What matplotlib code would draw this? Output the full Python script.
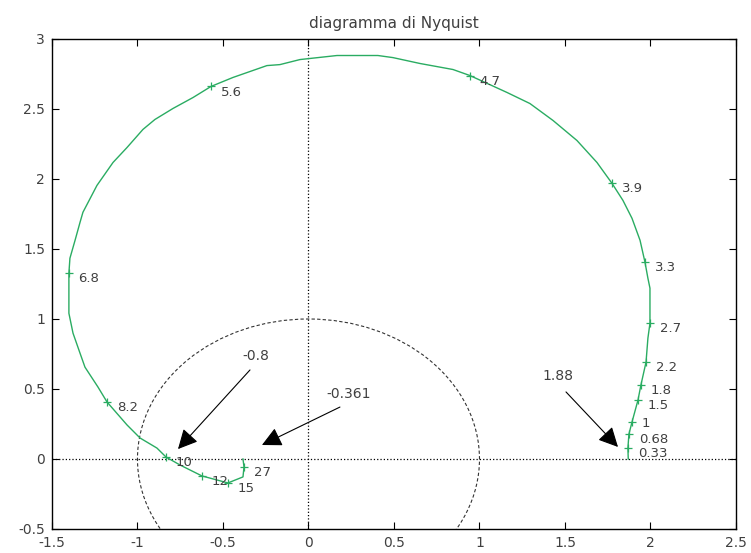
import numpy as np
import matplotlib
matplotlib.use("Agg")
import matplotlib.pyplot as plt

# curva di Nyquist (parte reale / immaginaria)
re = [1.87, 1.868, 1.874, 1.892, 1.927, 1.944, 1.974, 1.985, 1.997, 1.997, 1.985, 1.968,
      1.939, 1.892, 1.839, 1.775, 1.687, 1.570, 1.430, 1.295, 1.161, 0.944, 0.845, 0.652,
      0.494, 0.406, 0.167, -0.050, -0.167, -0.243, -0.442, -0.570, -0.675, -0.792, -0.898,
      -0.968, -1.061, -1.143, -1.237, -1.319, -1.336, -1.365, -1.395, -1.401, -1.401, -1.377,
      -1.336, -1.307, -1.231, -1.178, -1.061, -0.985, -0.886, -0.833, -0.751, -0.623, -0.471,
      -0.383, -0.377, -0.383]
im = [0.0, 0.078, 0.178, 0.264, 0.421, 0.528, 0.692, 0.863, 0.970, 1.220, 1.291, 1.405,
      1.562, 1.719, 1.847, 1.969, 2.118, 2.275, 2.418, 2.539, 2.618, 2.739, 2.782, 2.825,
      2.867, 2.882, 2.882, 2.853, 2.817, 2.810, 2.725, 2.661, 2.582, 2.504, 2.425,
      2.354, 2.225, 2.118, 1.954, 1.762, 1.690, 1.562, 1.434, 1.327, 1.041, 0.899,
      0.756, 0.656, 0.514, 0.407, 0.243, 0.150, 0.078, 0.014, -0.043, -0.121, -0.171,
      -0.128, -0.057, 0.0]

# pulsazioni marcate sulla curva
freq_labels = ["0.33", "0.68", "1", "1.5", "1.8", "2.2", "2.7", "3.3", "3.9", "4.7",
               "5.6", "6.8", "8.2", "10", "12", "15", "27"]
freq_re = [1.868, 1.874, 1.892, 1.927, 1.944, 1.974, 1.997, 1.968, 1.775, 0.944,
           -0.570, -1.401, -1.178, -0.833, -0.623, -0.471, -0.377]
freq_im = [0.078, 0.178, 0.264, 0.421, 0.528, 0.692, 0.970, 1.405, 1.969, 2.739,
           2.661, 1.327, 0.407, 0.014, -0.121, -0.171, -0.057]

xticks = [-1.5, -1, -0.5, 0, 0.5, 1, 1.5, 2, 2.5]
yticks = [-0.5, 0, 0.5, 1, 1.5, 2, 2.5, 3]

plt.rcParams['font.family'] = 'DejaVu Sans'
plt.rcParams['axes.unicode_minus'] = False

green = '#2aac62'
grey = '#404040'

fig = plt.figure(figsize=(7.51, 5.53), dpi=100)
ax = fig.add_axes([0.0692, 0.0434, 0.9108, 0.8861])

ax.axhline(0, color='k', ls=':', lw=0.9)
ax.axvline(0, color='k', ls=':', lw=0.9)

circle = plt.Circle((0, 0), 1, fill=False, edgecolor='#333333', ls=(0, (3, 2)), lw=0.8)
ax.add_patch(circle)

ax.plot(re, im, color=green, lw=1.0)
ax.plot(freq_re, freq_im, ls='none', marker='+', ms=6, mew=0.9, color=green)
for lab, x, y in zip(freq_labels, freq_re, freq_im):
    dy = -1 if lab == "1" else -4
    ax.annotate(lab, (x, y), xytext=(7, dy), textcoords='offset points',
                ha='left', va='center', fontsize=9.5, color=grey)

# frecce con i valori
arrows = [("-0.8", (-0.307, 0.736), (-0.342, 0.636), (-0.763, 0.071)),
          ("-0.361", (0.237, 0.464), (0.184, 0.371), (-0.272, 0.100)),
          ("1.88", (1.459, 0.593), (1.506, 0.479), (1.810, 0.086))]
for lab, tpos, tail, tip in arrows:
    ax.text(tpos[0], tpos[1], lab, ha='center', va='center', fontsize=10, color=grey)
    ax.annotate('', xy=tip, xytext=tail,
                arrowprops=dict(arrowstyle='-|>,head_length=0.6,head_width=0.3',
                                mutation_scale=20, color='k', lw=0.8,
                                shrinkA=0, shrinkB=0))

ax.set_xlim(-1.5, 2.5)
ax.set_ylim(-0.5, 3)
ax.set_xticks(xticks)
ax.set_yticks(yticks)
ax.set_xticklabels([f"{t:g}" for t in xticks])
ax.set_yticklabels([f"{t:g}" for t in yticks])
ax.tick_params(direction='in', top=True, right=True, length=5, width=0.8,
               labelsize=10, labelcolor=grey, pad=5)
for s in ax.spines.values():
    s.set_linewidth(1.0)

ax.set_title("diagramma di Nyquist", fontsize=11, color=grey, pad=8)

fig.savefig("out.png", dpi=100)
